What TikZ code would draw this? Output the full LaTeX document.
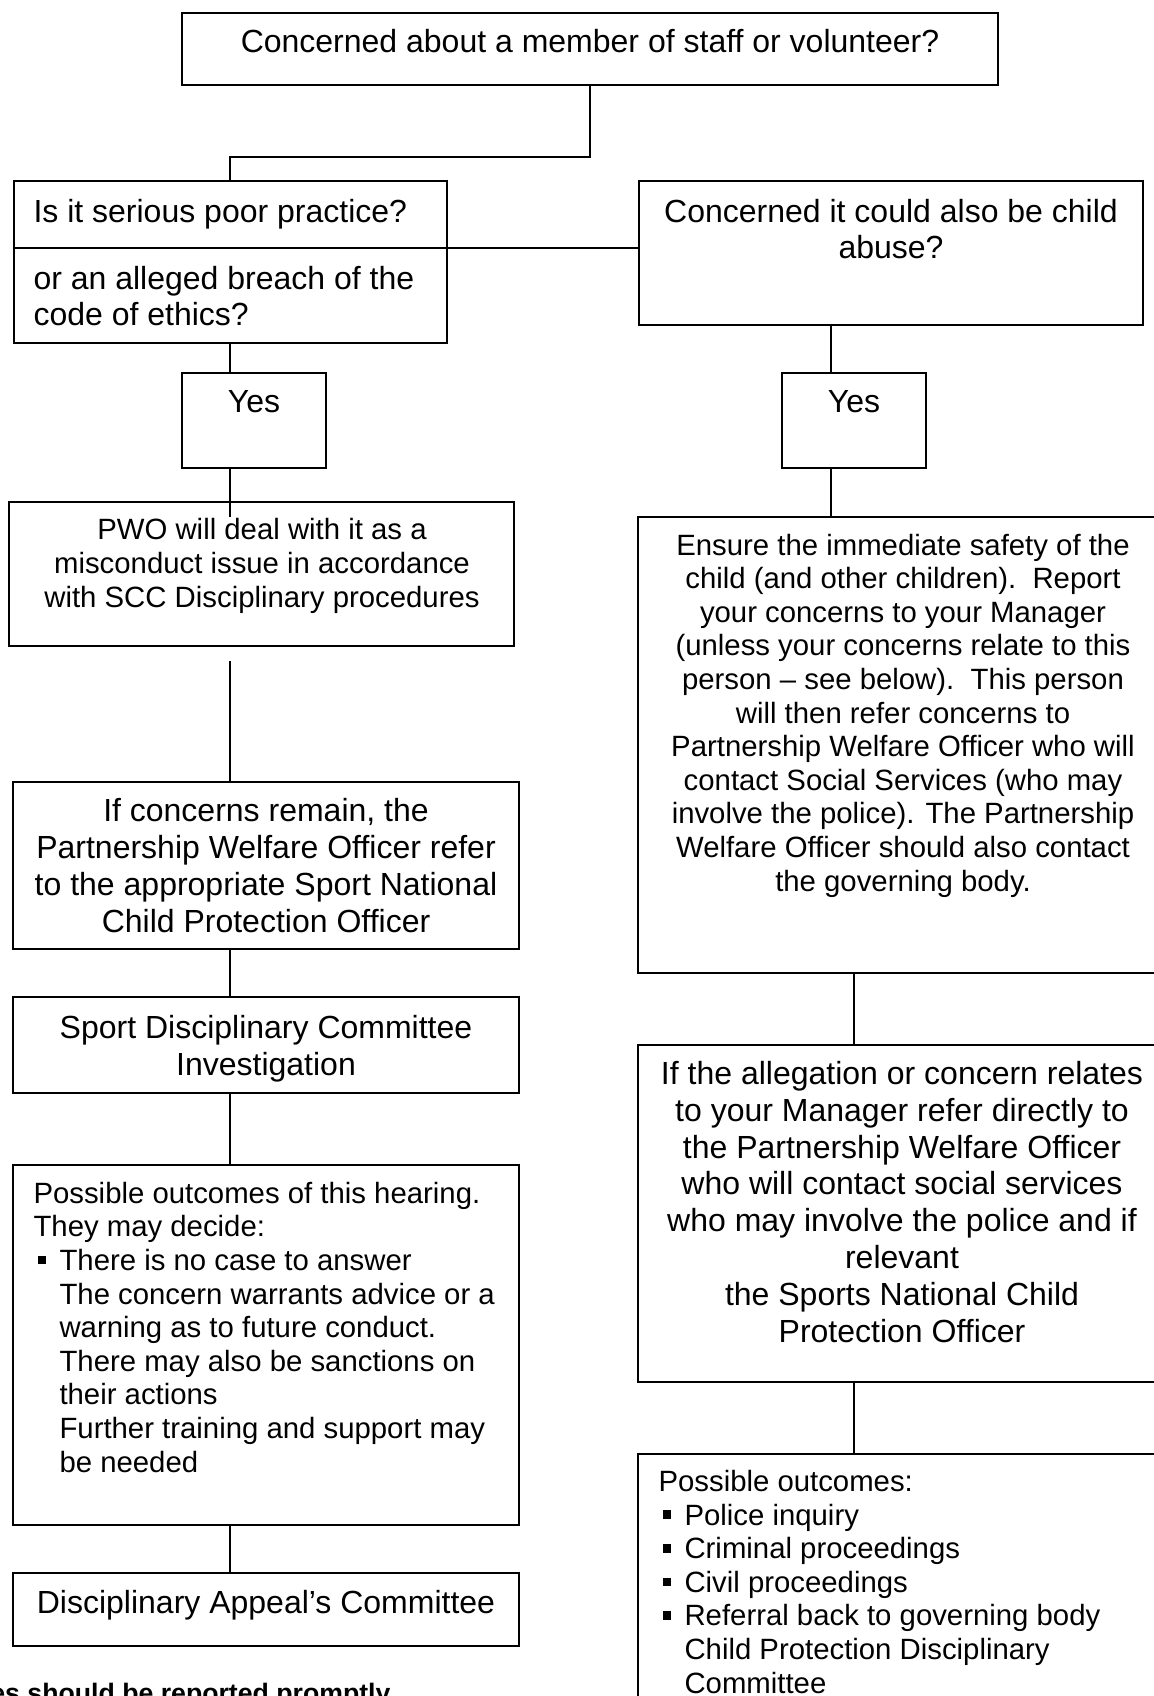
\documentclass[tikz,border=0pt]{standalone}
\usepackage{fontspec}
\setmainfont{Liberation Sans}
\usetikzlibrary{calc,fit,positioning}

% square bullet and the matching indent
\newcommand{\sqbul}{\makebox[9.75pt][l]{\hspace{1.5pt}\rule[2.25pt]{3.2pt}{3.2pt}}}
\newcommand{\bulind}{\hspace*{9.75pt}}

\begin{document}
\begin{tikzpicture}[x=0.375pt, y=-0.375pt,
		box/.style={draw, line width=0.75pt, inner sep=0pt, outer sep=0pt},
		big/.style={inner sep=0pt, font=\fontsize{12}{13.8}\selectfont},
		small/.style={inner sep=0pt, font=\fontsize{11}{12.6}\selectfont},
		link/.style={line width=0.75pt}]
	\useasboundingbox (0,0) rectangle (1153,1696);

	% columns of the connectors
	\coordinate (colL) at (230,0);
	\coordinate (colRa) at (831,0);
	\coordinate (colRb) at (854,0);

	% boxes
	\node[box, fit={(182,13) (998,85)}] (top) {};
	\node[box, fit={(14,181) (447,248)}] (qa) {};
	\node[box, fit={(14,248) (447,343)}] (qb) {};
	\node[box, fit={(639,181) (1143,325)}] (qr) {};
	\node[box, fit={(182,373) (326,468)}] (yesl) {};
	\node[box, fit={(782,373) (926,468)}] (yesr) {};
	\node[box, fit={(9,502) (514,646)}] (pwo) {};
	\node[box, fit={(638,517) (1168,973)}] (ensure) {};
	\node[box, fit={(13,782) (519,949)}] (remain) {};
	\node[box, fit={(13,997) (519,1093)}] (sport) {};
	\node[box, fit={(13,1165) (519,1525)}] (hearing) {};
	\node[box, fit={(13,1573) (519,1646)}] (appeal) {};
	\node[box, fit={(638,1045) (1168,1382)}] (allege) {};
	\node[box, fit={(638,1454) (1168,1760)}] (outcome) {};

	% texts (multi-line ones sit on the baseline of their last line)
	\node[big, anchor=base] (topT) at (590,53) {Concerned about a member of staff or volunteer?};
	\node[big, anchor=base west] (qaT) at (33,223) {Is it serious poor practice?};
	\node[big, anchor=base west, align=left] (qbT) at (33,326) {or an alleged breach of the\\code of ethics?};
	\node[big, anchor=base, align=center] (qrT) at (891,259) {Concerned it could also be child\\abuse?};
	\node[big, anchor=base] (yeslT) at (254,413) {Yes};
	\node[big, anchor=base] (yesrT) at (854,413) {Yes};
	\node[small, anchor=base, align=center] (pwoT) at (262,607)
		{PWO will deal with it as a\\misconduct issue in accordance\\with SCC Disciplinary procedures};
	\node[small, anchor=base, align=center] (ensureT) at (903,891)
		{Ensure the immediate safety of the\\child (and other children).\ \ Report\\your concerns to your Manager\\
		(unless your concerns relate to this\\person – see below).\ \ This person\\will then refer concerns to\\
		Partnership Welfare Officer who will\\contact Social Services (who may\\involve the police). The Partnership\\
		Welfare Officer should also contact\\the governing body.};
	\node[big, anchor=base, align=center] (remainT) at (266,932)
		{If concerns remain, the\\Partnership Welfare Officer refer\\to the appropriate Sport National\\Child Protection Officer};
	\node[big, anchor=base, align=center] (sportT) at (266,1075) {Sport Disciplinary Committee\\Investigation};
	\node[small, anchor=base west, align=left] (hearingT) at (33,1472)
		{Possible outcomes of this hearing.\\They may decide:\\\sqbul There is no case to answer\\
		\bulind The concern warrants advice or a\\\bulind warning as to future conduct.\\
		\bulind There may also be sanctions on\\\bulind their actions\\
		\bulind Further training and support may\\\bulind be needed};
	\node[big, anchor=base] (appealT) at (266,1613) {Disciplinary Appeal’s Committee};
	\node[big, anchor=base, align=center] (allegeT) at (902,1342)
		{If the allegation or concern relates\\to your Manager refer directly to\\the Partnership Welfare Officer\\
		who will contact social services\\who may involve the police and if\\relevant\\the Sports National Child\\Protection Officer};
	\node[small, anchor=base west, align=left] (outcomeT) at (658,1693)
		{Possible outcomes:\\\sqbul Police inquiry\\\sqbul Criminal proceedings\\\sqbul Civil proceedings\\
		\sqbul Referral back to governing body\\\bulind Child Protection Disciplinary\\\bulind Committee};
	\node[inner sep=0pt, anchor=base east, font=\fontsize{10}{12}\selectfont\bfseries] (note) at (391,1702)
		{es should be reported promptly};

	% connectors
	\draw[link] (top.south) -- ++(0,72) -| (qa.north -| colL);
	\draw[link] (qa.south east) -- (qa.south east -| qr.west);
	\draw[link] (qb.south -| colL) -- (yesl.north -| colL);
	\draw[link] (yesl.south -| colL) -- (ensure.north -| colL);
	\draw[link] ($(pwo.south -| colL)+(0,15)$) -- (remain.north -| colL);
	\draw[link] (remain.south -| colL) -- (sport.north -| colL);
	\draw[link] (sport.south -| colL) -- (hearing.north -| colL);
	\draw[link] (hearing.south -| colL) -- (appeal.north -| colL);
	\draw[link] (qr.south -| colRa) -- (yesr.north -| colRa);
	\draw[link] (yesr.south -| colRa) -- (ensure.north -| colRa);
	\draw[link] (ensure.south -| colRb) -- (allege.north -| colRb);
	\draw[link] (allege.south -| colRb) -- (outcome.north -| colRb);
\end{tikzpicture}
\end{document}
